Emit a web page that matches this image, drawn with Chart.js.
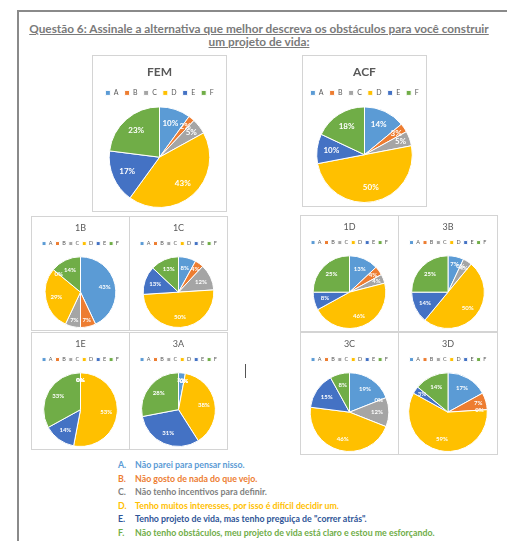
<!DOCTYPE html>
<html>
<head>
<meta charset="utf-8">
<script src="https://cdn.jsdelivr.net/npm/chart.js@4.4.1/dist/chart.umd.min.js"></script>
<style>
  body { margin:0; background:#fff; width:507px; height:541px; overflow:hidden; position:relative; font-family:Lato, "Open Sans", sans-serif; }
  .frame { position:absolute; left:17px; top:10px; width:520px; height:560px; border-left:2px solid #8a8a8a; border-top:2px solid #8a8a8a; }
  .head { position:absolute; left:20px; top:22px; width:478px; text-align:center; color:#7a7a7a; font-weight:bold; font-size:11.8px; line-height:13px; text-decoration:underline; white-space:nowrap; }
  .box { position:absolute; border:1px solid #d4d4d4; background:#fff; }
  .box canvas { display:block; }
  .cursor { position:absolute; left:245px; top:364px; width:1px; height:14px; background:#555; }
  .notes { position:absolute; left:118px; top:458px; font-weight:bold; font-size:8.8px; line-height:13.6px; }
  .notes div span { display:inline-block; width:17px; }
</style>
</head>
<body>
<div class="frame"></div>
<div class="head">Questão 6: Assinale a alternativa que melhor descreva os obstáculos para você construir<br>um projeto de vida:</div>
<div class="cursor"></div>
<div class="notes" id="notes"></div>
<script>
// categories and colours (Office palette)
const categories = ['A', 'B', 'C', 'D', 'E', 'F'];
const sliceColors = ['#5b9bd5', '#ed7d31', '#a5a5a5', '#ffc000', '#4472c4', '#70ad47'];

// percentages per group
const fem = [10, 2, 5, 43, 17, 23];
const acf = [14, 3, 5, 50, 10, 18];
const g1B = [43, 7, 7, 29, 0, 14];
const g1C = [8, 4, 12, 50, 13, 13];
const g1D = [13, 4, 4, 46, 8, 25];
const g3B = [7, 0, 4, 50, 14, 25];
const g1E = [0, 0, 0, 53, 14, 33];
const g3A = [3, 0, 0, 38, 31, 28];
const g3C = [19, 0, 12, 46, 15, 8];
const g3D = [17, 7, 0, 59, 3, 14];

const answers = [
  'Não parei para pensar nisso.',
  'Não gosto de nada do que vejo.',
  'Não tenho incentivos para definir.',
  'Tenho muitos interesses, por isso é difícil decidir um.',
  'Tenho projeto de vida, mas tenho preguiça de "correr atrás".',
  'Não tenho obstáculos, meu projeto de vida está claro e estou me esforçando.'
];
const answerColors = ['#5b9bd5', '#ed7d31', '#7f7f7f', '#ffc000', '#2f5597', '#70ad47'];

// percentage labels inside the slices
const pctLabels = {
  id: 'pctLabels',
  afterDatasetsDraw(chart, args, opts) {
    const ctx = chart.ctx;
    const values = chart.data.datasets[0].data;
    ctx.save();
    ctx.fillStyle = '#fff';
    ctx.font = 'bold ' + opts.size + 'px Lato, sans-serif';
    ctx.textAlign = 'center';
    ctx.textBaseline = 'middle';
    chart.getDatasetMeta(0).data.forEach((arc, i) => {
      const p = arc.getProps(['x', 'y', 'startAngle', 'endAngle', 'outerRadius'], true);
      const mid = (p.startAngle + p.endAngle) / 2;
      const r = p.outerRadius * (values[i] < 8 ? 0.8 : 0.7);
      ctx.fillText(values[i] + '%', p.x + Math.cos(mid) * r, p.y + Math.sin(mid) * r);
    });
    ctx.restore();
  }
};

function makePie(name, data, box, big) {
  const div = document.createElement('div');
  div.className = 'box';
  div.style.left = box[0] + 'px';
  div.style.top = box[1] + 'px';
  const cv = document.createElement('canvas');
  cv.width = box[2];
  cv.height = box[3];
  div.appendChild(cv);
  document.body.appendChild(div);

  new Chart(cv, {
    type: 'pie',
    data: {
      labels: categories,
      datasets: [{ data: data, backgroundColor: sliceColors, borderColor: '#fff', borderWidth: 1 }]
    },
    options: {
      responsive: false,
      animation: false,
      layout: { padding: { bottom: big ? 3 : 2 } },
      plugins: {
        title: {
          display: true, text: name, color: '#595959',
          font: big ? { family: 'Lato', size: 12, weight: 'bold' } : { family: 'Lato', size: 9, weight: 'normal' },
          padding: big ? { top: 9, bottom: 4 } : { top: 6, bottom: 4 }
        },
        legend: {
          labels: {
            color: '#595959',
            boxWidth: big ? 5 : 4, boxHeight: big ? 5 : 4,
            padding: big ? 6 : 3,
            font: { family: 'Lato', size: big ? 7 : 5.5 }
          }
        },
        tooltip: { enabled: false },
        pctLabels: { size: big ? 8 : 6 }
      }
    },
    plugins: [pctLabels]
  });
}

makePie('FEM', fem, [92, 55, 133, 155], true);
makePie('ACF', acf, [302, 55, 123, 150], true);
makePie('1B', g1B, [31, 216, 97, 113], false);
makePie('1C', g1C, [129, 216, 97, 113], false);
makePie('1D', g1D, [300, 215, 97, 115], false);
makePie('3B', g3B, [398, 215, 98, 115], false);
makePie('1E', g1E, [31, 332, 97, 116], false);
makePie('3A', g3A, [129, 332, 97, 116], false);
makePie('3C', g3C, [300, 332, 97, 121], false);
makePie('3D', g3D, [398, 332, 98, 121], false);

const notes = document.getElementById('notes');
answers.forEach((t, i) => {
  const d = document.createElement('div');
  d.style.color = answerColors[i];
  d.innerHTML = '<span>' + categories[i] + '.</span>' + t;
  notes.appendChild(d);
});
</script>
</body>
</html>
